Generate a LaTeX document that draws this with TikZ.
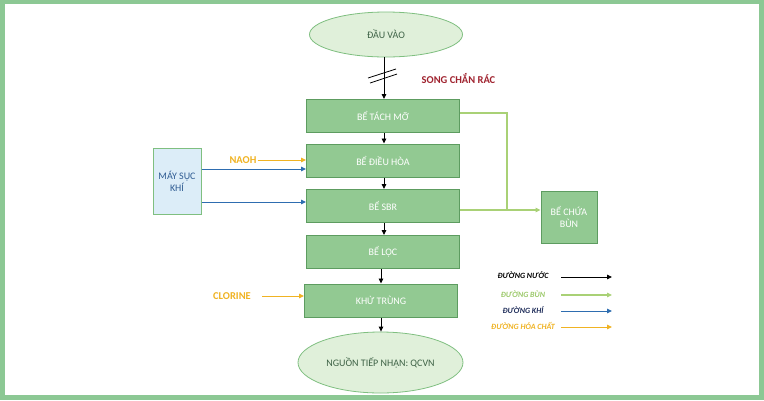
\documentclass[tikz,border=0pt]{standalone}
\usepackage{fontspec}
\setmainfont{Carlito}
\usetikzlibrary{arrows.meta,shapes.geometric}
\definecolor{frameg}{HTML}{8CC894}
\definecolor{ellfill}{HTML}{E0F0DA}
\definecolor{elldraw}{HTML}{7FBF80}
\definecolor{boxfill}{HTML}{92C992}
\definecolor{boxdraw}{HTML}{5D9C60}
\definecolor{mayfill}{HTML}{DCEDF8}
\definecolor{maytext}{HTML}{2F5C93}
\definecolor{sludgec}{HTML}{A9D176}
\definecolor{airc}{HTML}{2E6DB0}
\definecolor{chemc}{HTML}{F0B323}
\definecolor{redt}{HTML}{A0232F}
\definecolor{elltext}{HTML}{3E6246}
\definecolor{khitext}{HTML}{1F2D5A}
\definecolor{buntext}{HTML}{9CC96A}
\tikzset{
  ell/.style={ellipse, draw=elldraw, fill=ellfill, line width=0.8pt, inner sep=0pt, text=elltext, font=\fontsize{10}{12}\selectfont},
  tank/.style={rectangle, draw=boxdraw, fill=boxfill, line width=1pt, minimum width=153pt, minimum height=33pt, inner sep=0pt, text=white, font=\fontsize{10}{12}\selectfont},
  tip/.style={-{Triangle[length=5pt,width=4.5pt]}},
  water/.style={tip, black, line width=0.9pt},
  sludge/.style={sludgec, line width=1.2pt},
  air/.style={tip, airc, line width=1pt},
  chem/.style={tip, chemc, line width=1pt},
  lab/.style={inner sep=0pt, font=\fontsize{10.5}{12}\selectfont\bfseries},
  leg/.style={inner sep=0pt, font=\fontsize{8}{10}\selectfont\bfseries\itshape},
}
\begin{document}
\begin{tikzpicture}[x=1pt,y=-1pt]
\useasboundingbox (0,0) rectangle (764,400);
\fill[frameg] (0,0) rectangle (764,400);
\fill[white] (5,4) rectangle (759,395);

\node[ell, minimum width=153pt, minimum height=45pt] (start) at (386,34.5) {ĐẦU VÀO};
\node[tank] (tach) at (383,116) {BỂ TÁCH MỠ};
\node[tank] (dieuhoa) at (383,160.5) {BỂ ĐIỀU HÒA};
\node[tank] (sbr) at (383,206) {BỂ SBR};
\node[tank] (loc) at (383,252) {BỂ LỌC};
\node[tank] (khu) at (381,300.5) {KHỬ TRÙNG};
\node[ell, minimum width=165pt, minimum height=61pt] (end) at (380.5,362.5) {NGUỒN TIẾP NHẬN: QCVN};

\node[rectangle, draw=elldraw, fill=mayfill, line width=1pt, minimum width=48pt, minimum height=66pt, inner sep=0pt, align=center, text=maytext, font=\fontsize{10}{12}\selectfont] (may) at (177,181) {MÁY SỤC\\KHÍ};
\node[rectangle, draw=boxdraw, fill=boxfill, line width=1pt, minimum width=56pt, minimum height=52pt, inner sep=0pt, align=center, text=white, font=\fontsize{10}{12}\selectfont] (bun) at (569,217) {BỂ CHỨA\\BÙN};

\node[lab, text=redt] (song) at (458.5,79) {SONG CHẮN RÁC};
\node[lab, text=chemc] (naoh) at (243,160) {NAOH};
\node[lab, text=chemc] (clor) at (232,296) {CLORINE};

% water line
\draw[water] (start.south -| 384,0) -- (tach.north -| 384,0);
\draw[black, line width=0.8pt] (368,78) -- (396,69);
\draw[black, line width=0.8pt] (370,83) -- (397,74);
\draw[water] (tach.south -| 384,0) -- (dieuhoa.north -| 384,0);
\draw[water] (dieuhoa.south -| 384,0) -- (sbr.north -| 384,0);
\draw[water] (sbr.south -| 384,0) -- (loc.north -| 384,0);
\draw[water] (loc.south -| 381,0) -- (khu.north -| 381,0);
\draw[water] (khu.south -| 381,0) -- (end.north -| 381,0);

% sludge
\coordinate (jn) at (507,210);
\draw[sludge] ([yshift=3pt]tach.east) -| (jn);
\draw[sludge, tip] (sbr.east |- jn) -- (bun.west |- jn);

% air
\draw[air] (may.east |- 0,169) -- (dieuhoa.west |- 0,169);
\draw[air] (may.east |- 0,202) -- (sbr.west |- 0,202);

% chemicals
\draw[chem] ([xshift=1pt]naoh.east) -- (dieuhoa.west |- naoh.east);
\draw[chem] ([xshift=11pt]clor.east) -- (khu.west |- clor.east);

% legend
\node[leg, text=black] (lg1) at (523,275) {ĐƯỜNG NƯỚC};
\node[leg, text=buntext] (lg2) at (523,294) {ĐƯỜNG BÙN};
\node[leg, text=khitext] (lg3) at (523,310) {ĐƯỜNG KHÍ};
\node[leg, text=chemc] (lg4) at (523,326) {ĐƯỜNG HÓA CHẤT};
\coordinate (a1) at (561,277); \coordinate (b1) at (612,277);
\coordinate (a2) at (561,295); \coordinate (b2) at (612,295);
\coordinate (a3) at (561,311); \coordinate (b3) at (612,311);
\coordinate (a4) at (561,327); \coordinate (b4) at (612,327);
\draw[water] (a1) -- (b1);
\draw[sludge, tip] (a2) -- (b2);
\draw[air] (a3) -- (b3);
\draw[chem] (a4) -- (b4);
\end{tikzpicture}
\end{document}
